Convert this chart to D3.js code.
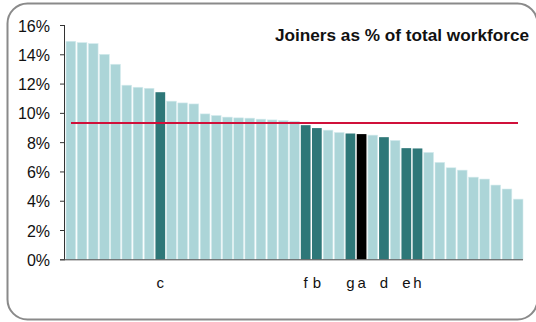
<!DOCTYPE html>
<html><head><meta charset="utf-8">
<script src="https://cdn.jsdelivr.net/npm/d3@7"></script>
<style>body{margin:0;background:#fff}svg{display:block}text{font-family:Arial,"Liberation Sans",sans-serif}</style>
</head><body>
<script>
const values = [14.89,14.80,14.73,14.00,13.32,11.89,11.75,11.68,11.41,10.80,10.68,10.61,
  9.93,9.82,9.71,9.66,9.64,9.57,9.52,9.48,9.43,9.16,8.96,8.82,8.66,8.59,8.55,8.48,8.34,8.12,
  7.59,7.57,7.30,6.62,6.25,6.09,5.61,5.48,5.07,4.80,4.11];
const labels = ["","","","","","","","","c","","","","","","","","","","","","","f","b","","","g","a","","d","","e","h","","","","","","","","",""];
// kind: 0 = other, 1 = highlighted, 2 = focus
const kinds = [0,0,0,0,0,0,0,0,1,0,0,0,0,0,0,0,0,0,0,0,0,1,1,0,0,1,2,0,1,0,1,1,0,0,0,0,0,0,0,0,0];
const average = 9.3;
const yTicks = [0,2,4,6,8,10,12,14,16];
const title = "Joiners as % of total workforce";

const W = 536, H = 322;
const svg = d3.select("body").append("svg").attr("width", W).attr("height", H);

svg.append("rect").attr("x", 7.5).attr("y", 3.5).attr("width", 530).attr("height", 316)
  .attr("rx", 20).attr("ry", 20).attr("fill", "#fff").attr("stroke", "#8a8a8a").attr("stroke-width", 2);

const x = d3.scaleBand().domain(d3.range(values.length)).range([66, 523]).paddingInner(0.13).paddingOuter(0);
const y = d3.scaleLinear().domain([0, 16]).range([259.3, 25]);
const colors = ["#acd5d8", "#2e7778", "#000000"];

svg.append("g").selectAll("rect").data(values).join("rect")
  .attr("x", (d, i) => x(i)).attr("width", x.bandwidth())
  .attr("y", d => y(d)).attr("height", d => y(0) - y(d))
  .attr("fill", (d, i) => colors[kinds[i]])
  .attr("stroke", (d, i) => kinds[i] === 0 ? "#d6ecee" : "none").attr("stroke-width", 0.6);

svg.append("line").attr("x1", 71).attr("x2", 518).attr("y1", y(average)).attr("y2", y(average))
  .attr("stroke", "#d0103a").attr("stroke-width", 2);

const yAxis = svg.append("g").attr("transform", "translate(65,0)")
  .call(d3.axisLeft(y).tickValues(yTicks).tickFormat(d => d + "%").tickSize(5).tickPadding(10));
yAxis.select(".domain").attr("stroke", "#333").attr("d", `M-0.5,${y(16)}V${y(0)}`);
yAxis.selectAll(".tick line").attr("stroke", "#333");
yAxis.selectAll("text").attr("font-size", 16).attr("dy", "0.38em").attr("fill", "#111").attr("font-family", "Arial, 'Liberation Sans', sans-serif");

const xAxis = svg.append("g").attr("transform", `translate(0,${y(0)})`)
  .call(d3.axisBottom(x).tickFormat(i => labels[i]).tickSize(0).tickPadding(18));
xAxis.select(".domain").attr("stroke", "#444").attr("d", "M60,0.5H523");
xAxis.selectAll("text").attr("font-size", 15).attr("fill", "#111").attr("font-family", "Arial, 'Liberation Sans', sans-serif");

svg.append("text").attr("x", 529).attr("y", 40.5).attr("text-anchor", "end")
  .attr("font-size", 17.2).attr("font-weight", "bold").attr("fill", "#111").text(title);
</script>
</body></html>
